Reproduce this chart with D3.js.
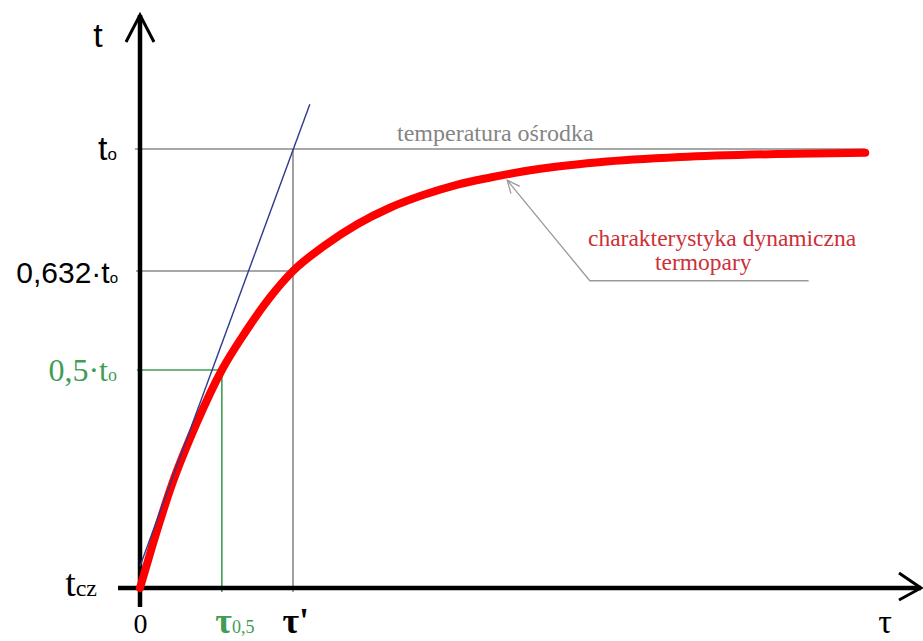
<!DOCTYPE html>
<html>
<head>
<meta charset="utf-8">
<script src="https://cdn.jsdelivr.net/npm/d3@7"></script>
<style>
  body { margin: 0; background: #fff; }
  svg { display: block; }
</style>
</head>
<body>
<svg id="chart" width="923" height="641"></svg>
<script>
// Time, in units of the time constant τ'
const curveTau = [0, 0.08, 0.21, 0.37, 0.535, 0.69, 0.85, 1.0, 1.2, 1.42, 1.63, 1.85, 2.07, 2.29, 2.5, 2.73, 3.0, 3.53, 4.18, 4.74];
// Thermocouple reading, as a fraction of the medium temperature t_o
const curveTemp = [0, 0.096, 0.2385, 0.378, 0.5, 0.551, 0.597, 0.632, 0.7065, 0.773, 0.822, 0.861, 0.892, 0.914, 0.932, 0.947, 0.960, 0.9756, 0.985, 0.989];

// Tangent to the curve at the start
const tangentTau = [0, 1.11];
const tangentTemp = [0.05, 1.135];

// Axis marks
const yTickValues = [0, 0.5, 0.632, 1];
const yTickMain = ["t", "0,5·t", "0,632·t", "t"];
const yTickSub = ["cz", "o", "o", "o"];
const xTickValues = [0, 0.535, 1];
const xTickMain = ["0", "τ", "τ'"];
const xTickSub = ["", "0,5", ""];

const tauEnd = 4.74;       // last sample of the curve
const tauMedium = 1.0;     // τ'
const tauHalf = 0.535;     // τ0,5
const tauPointer = 2.4;    // where the label's leader touches the curve
const tempPointer = 0.924;

const SERIF = "'Liberation Serif', 'Times New Roman', serif";
const SANS = "'Liberation Sans', Arial, sans-serif";
const GREY = "#8a8a8a";
const GREEN = "#3f9d55";
const RED = "#ff0000";
const BLUE = "#2e3a8c";

const svg = d3.select("#chart");

// Schematic axes: the temperature levels are spaced for legibility
const x = d3.scaleLinear().domain([0, 1]).range([140, 293]);
const y = d3.scaleLinear().domain([0, 0.5, 0.632, 1]).range([588, 370, 271, 149]);

const curve = curveTau.map((t, i) => [t, curveTemp[i]]);
const tangent = tangentTau.map((t, i) => [t, tangentTemp[i]]);

// ---- guide lines ----
const guides = svg.append("g").attr("fill", "none");
// medium temperature
guides.append("line")
  .attr("x1", x(-0.033)).attr("x2", x(tauEnd))
  .attr("y1", y(1)).attr("y2", y(1))
  .attr("stroke", GREY).attr("stroke-width", 1.6);
// 0,632 level and τ'
guides.append("path")
  .attr("d", d3.line()([[x(-0.026), y(0.632)], [x(tauMedium), y(0.632)]]))
  .attr("stroke", GREY).attr("stroke-width", 1.6);
guides.append("line")
  .attr("x1", x(tauMedium)).attr("x2", x(tauMedium))
  .attr("y1", y(1)).attr("y2", y(-0.009))
  .attr("stroke", GREY).attr("stroke-width", 1.6);
// 0,5 level and τ0,5
guides.append("path")
  .attr("d", d3.line()([[x(-0.02), y(0.5)], [x(tauHalf), y(0.5)], [x(tauHalf), y(-0.009)]]))
  .attr("stroke", GREEN).attr("stroke-width", 1.6);

// ---- axes with arrow heads ----
const axes = svg.append("g").attr("stroke", "#000").attr("fill", "none");
axes.append("line")
  .attr("x1", x(0)).attr("x2", x(0))
  .attr("y1", 607).attr("y2", 15)
  .attr("stroke-width", 4.5);
axes.append("path")
  .attr("d", d3.line()([[x(0) - 14, 42], [x(0), 15], [x(0) + 14, 42]]))
  .attr("stroke-width", 3);
axes.append("line")
  .attr("x1", 118).attr("x2", 921)
  .attr("y1", y(0)).attr("y2", y(0))
  .attr("stroke-width", 4.5);
axes.append("path")
  .attr("d", d3.line()([[899, y(0) - 15], [921, y(0)], [899, y(0) + 12]]))
  .attr("stroke-width", 3);

// ---- response curve ----
svg.append("path")
  .datum(curve)
  .attr("fill", "none")
  .attr("stroke", RED)
  .attr("stroke-width", 8)
  .attr("stroke-linecap", "round")
  .attr("stroke-linejoin", "round")
  .attr("d", d3.line().x(d => x(d[0])).y(d => y(d[1])).curve(d3.curveMonotoneX));

// ---- tangent ----
svg.append("path")
  .datum(tangent)
  .attr("fill", "none")
  .attr("stroke", BLUE)
  .attr("stroke-width", 1.4)
  .attr("d", d3.line().x(d => x(d[0])).y(d => y(d[1])));

// ---- y tick labels ----
const yStyle = [
  { font: SERIF, main: 38, sub: 24, fill: "#000", right: 97, dy: 7 },
  { font: SERIF, main: 32, sub: 18, fill: GREEN, right: 117, dy: 10 },
  { font: SANS, main: 30, sub: 15, fill: "#000", right: 118, dy: 11 },
  { font: SANS, main: 34, sub: 17, fill: "#000", right: 117, dy: 10 }
];
const yAxis = svg.append("g")
  .attr("transform", `translate(${x(0)},0)`)
  .call(d3.axisLeft(y).tickValues(yTickValues).tickSize(0).tickFormat(() => ""));
yAxis.select(".domain").remove();
yAxis.selectAll(".tick text").each(function (d, i) {
  const s = yStyle[i];
  const t = d3.select(this)
    .attr("x", s.right - x(0))
    .attr("dy", s.dy)
    .attr("text-anchor", "end")
    .attr("font-family", s.font)
    .attr("fill", s.fill);
  t.append("tspan").attr("font-size", s.main).text(yTickMain[i]);
  t.append("tspan").attr("font-size", s.sub).text(yTickSub[i]);
});

// ---- x tick labels ----
const xStyle = [
  { main: 28, sub: 0, fill: "#000", anchor: "middle", dx: 0, weight: "normal" },
  { main: 36, sub: 18, fill: GREEN, anchor: "start", dx: -7, weight: "bold" },
  { main: 36, sub: 0, fill: "#000", anchor: "start", dx: -11, weight: "bold" }
];
const xAxis = svg.append("g")
  .attr("transform", `translate(0,${y(0)})`)
  .call(d3.axisBottom(x).tickValues(xTickValues).tickSize(0).tickFormat(() => ""));
xAxis.select(".domain").remove();
xAxis.selectAll(".tick text").each(function (d, i) {
  const s = xStyle[i];
  const t = d3.select(this)
    .attr("x", s.dx)
    .attr("y", 45)
    .attr("dy", 0)
    .attr("text-anchor", s.anchor)
    .attr("font-family", SERIF)
    .attr("fill", s.fill);
  t.append("tspan").attr("font-size", s.main).attr("font-weight", s.weight).text(xTickMain[i]);
  if (xTickSub[i]) t.append("tspan").attr("font-size", s.sub).text(xTickSub[i]);
});

// ---- axis titles ----
svg.append("text")
  .attr("x", 98).attr("y", 47)
  .attr("text-anchor", "middle")
  .attr("font-family", SANS).attr("font-size", 34)
  .text("t");
svg.append("text")
  .attr("x", 885).attr("y", 633)
  .attr("text-anchor", "middle")
  .attr("font-family", SERIF).attr("font-size", 34)
  .text("τ");

// ---- annotations ----
svg.append("text")
  .attr("x", 397).attr("y", 141)
  .attr("font-family", SERIF).attr("font-size", 24)
  .attr("fill", "#858585")
  .text("temperatura ośrodka");

const label = svg.append("text")
  .attr("font-family", SERIF).attr("font-size", 23.5)
  .attr("fill", "#cc3038");
label.append("tspan").attr("x", 588).attr("y", 246).text("charakterystyka dynamiczna");
label.append("tspan").attr("x", 655).attr("y", 270).text("termopary");

// leader from the label to the curve
const tip = [x(tauPointer), y(tempPointer) + 6];
const elbow = [x(2.94), y(0.619)];
const leaderEnd = [x(4.37), y(0.619)];
svg.append("path")
  .attr("fill", "none").attr("stroke", "#9a9a9a").attr("stroke-width", 1.3)
  .attr("d", d3.line()([leaderEnd, elbow, tip]));
const ang = Math.atan2(elbow[1] - tip[1], elbow[0] - tip[0]);
const arm = 14, spread = 0.42;
svg.append("path")
  .attr("fill", "none").attr("stroke", "#9a9a9a").attr("stroke-width", 1.3)
  .attr("d", d3.line()([
    [tip[0] + arm * Math.cos(ang - spread), tip[1] + arm * Math.sin(ang - spread)],
    tip,
    [tip[0] + arm * Math.cos(ang + spread), tip[1] + arm * Math.sin(ang + spread)]
  ]));
</script>
</body>
</html>
